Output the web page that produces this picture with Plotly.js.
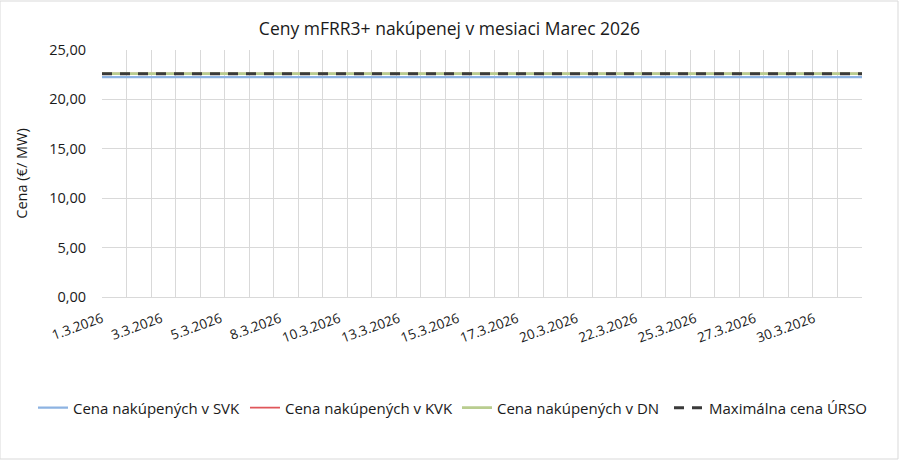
<!DOCTYPE html>
<html><head><meta charset="utf-8">
<script src="https://cdn.plot.ly/plotly-3.0.1.min.js"></script>
<style>html,body{margin:0;padding:0;background:#fff}#chart{width:899px;height:460px}</style>
</head><body><div id="chart"></div>
<script>
// Days of March 2026
const days = ['1.3.2026','2.3.2026','3.3.2026','4.3.2026','5.3.2026','6.3.2026','7.3.2026','8.3.2026','9.3.2026','10.3.2026',
 '11.3.2026','12.3.2026','13.3.2026','14.3.2026','15.3.2026','16.3.2026','17.3.2026','18.3.2026','19.3.2026','20.3.2026',
 '21.3.2026','22.3.2026','23.3.2026','24.3.2026','25.3.2026','26.3.2026','27.3.2026','28.3.2026','29.3.2026','30.3.2026','31.3.2026'];
// Daily prices (€/MW)
const svk = [22.25,22.25,22.25,22.25,22.25,22.25,22.25,22.25,22.25,22.25,22.25,22.25,22.25,22.25,22.25,22.25,22.25,22.25,22.25,22.25,22.25,22.25,22.25,22.25,22.25,22.25,22.25,22.25,22.25,22.25,22.25];
const kvk = [22.6,22.6,22.6,22.6,22.6,22.6,22.6,22.6,22.6,22.6,22.6,22.6,22.6,22.6,22.6,22.6,22.6,22.6,22.6,22.6,22.6,22.6,22.6,22.6,22.6,22.6,22.6,22.6,22.6,22.6,22.6];
const dn  = [22.6,22.6,22.6,22.6,22.6,22.6,22.6,22.6,22.6,22.6,22.6,22.6,22.6,22.6,22.6,22.6,22.6,22.6,22.6,22.6,22.6,22.6,22.6,22.6,22.6,22.6,22.6,22.6,22.6,22.6,22.6];
const maxUrso = [22.6,22.6,22.6,22.6,22.6,22.6,22.6,22.6,22.6,22.6,22.6,22.6,22.6,22.6,22.6,22.6,22.6,22.6,22.6,22.6,22.6,22.6,22.6,22.6,22.6,22.6,22.6,22.6,22.6,22.6,22.6];
// Axis labels shown on the x axis
const tickLabels = ['1.3.2026','3.3.2026','5.3.2026','8.3.2026','10.3.2026','13.3.2026','15.3.2026','17.3.2026','20.3.2026','22.3.2026','25.3.2026','27.3.2026','30.3.2026'];
const seriesNames = ['Cena nakúpených v SVK','Cena nakúpených v KVK','Cena nakúpených v DN','Maximálna cena ÚRSO'];

const xPos = days.map((d,i)=>i);          // day index 0..30
const nDays = days.length;
const span = nDays - 1;                     // axis range 0..30
// label positions (Excel label interval ~2.42 days)
const tickPos = tickLabels.map((t,k)=>k*58/743*span);

const font = '"Open Sans", Lato, sans-serif';
const txt = '#1a1a1a';
const mk = (y,name,color,width,extra)=>Object.assign({
  x: xPos, y: y, name: name, type:'scatter', mode:'lines',
  line:{color:color,width:width}, hoverinfo:'skip'
}, extra||{});

const data = [
  mk(svk, seriesNames[0], '#8db3e2', 2.25),
  mk(kvk, seriesNames[1], '#e0565a', 1.75),
  mk(dn,  seriesNames[2], '#b9cd8f', 2.75),
  mk(maxUrso, seriesNames[3], '#3a3a3a', 3, {line:{color:'#3a3a3a',width:3,dash:'10px,8px'}})
];

const layout = {
  width:899, height:460,
  margin:{l:102,r:37,t:50,b:163, autoexpand:false},
  paper_bgcolor:'#fff', plot_bgcolor:'#fff',
  separators:', ',
  font:{family:font,color:txt,size:14},
  title:{text:'Ceny mFRR3+ nakúpenej v mesiaci Marec 2026', x:0.5, xanchor:'center', y:0.937, yanchor:'middle',
    font:{family:font,size:17.5,color:txt}},
  xaxis:{range:[0,span], tickmode:'array', tickvals:tickPos, ticktext:tickLabels, tickangle:-20,
    showgrid:false, zeroline:false, showline:true, linecolor:'#d9d9d9', linewidth:1,
    ticks:'outside', ticklen:8, tickcolor:'rgba(0,0,0,0)', automargin:false,
    tickfont:{family:font,size:13.5,color:txt},
    minor:{tickmode:'linear', tick0:0, dtick:span/nDays, showgrid:true, gridcolor:'#d9d9d9', gridwidth:1, ticks:''},
    fixedrange:true},
  yaxis:{range:[0,25], dtick:5, tickformat:'.2f', showgrid:true, gridcolor:'#d9d9d9', gridwidth:1,
    zeroline:false, showline:false, ticks:'outside', ticklen:12, tickcolor:'rgba(0,0,0,0)', automargin:false,
    tickfont:{family:font,size:14.5,color:txt},
    title:{text:'Cena (€/ MW)', font:{family:font,size:14.5,color:txt}, standoff:18},
    fixedrange:true},
  legend:{orientation:'h', x:-0.0908, xanchor:'left', y:-0.449, yanchor:'middle',
    font:{family:font,size:15,color:txt}, entrywidth:167, itemwidth:30, traceorder:'normal'},
  shapes:[{type:'rect', xref:'paper', yref:'paper', x0:-102/760, x1:1+36/760, y0:-162/247, y1:1+49/247,
    line:{color:'#d9d9d9',width:1}}],
  showlegend:true
};
Plotly.newPlot('chart', data, layout, {displayModeBar:false, staticPlot:true});
</script></body></html>
